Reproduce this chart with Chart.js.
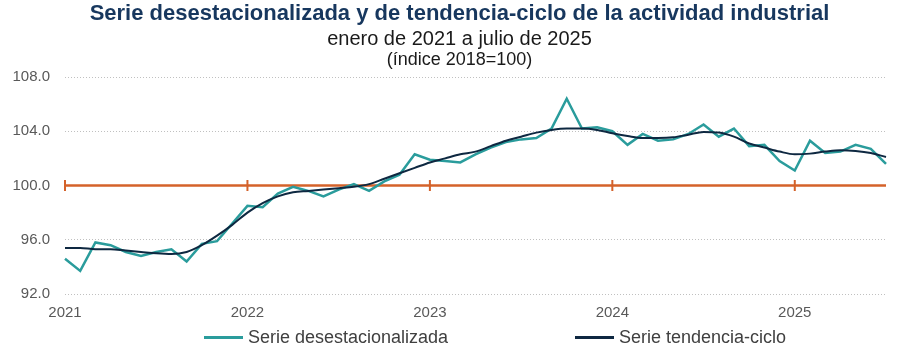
<!DOCTYPE html>
<html>
<head>
<meta charset="utf-8">
<script src="https://cdn.jsdelivr.net/npm/chart.js@4.4.1/dist/chart.umd.min.js"></script>
<style>
  html, body { margin: 0; padding: 0; background: #ffffff; }
  #wrap { position: relative; width: 919px; height: 357px; overflow: hidden; font-family: "Liberation Sans", Arial, sans-serif; }
  #c { position: absolute; left: 0; top: 0; }
  .t { position: absolute; left: 0; width: 919px; text-align: center; white-space: nowrap; }
  #t1 { top: 0px; font-size: 22px; font-weight: bold; color: #17375e; }
  #t2 { top: 27px; font-size: 20px; color: #1a1a1a; }
  #t3 { top: 49px; font-size: 18px; color: #1a1a1a; }
  .lg { position: absolute; top: 327px; font-size: 18px; color: #404040; white-space: nowrap; display: flex; align-items: center; }
  .lg span.sw { display: inline-block; width: 39px; height: 3px; margin-right: 5px; }
</style>
</head>
<body>
<div id="wrap">
  <canvas id="c" width="919" height="357"></canvas>
  <div class="t" id="t1">Serie desestacionalizada y de tendencia-ciclo de la actividad industrial</div>
  <div class="t" id="t2">enero de 2021 a julio de 2025</div>
  <div class="t" id="t3">(índice 2018=100)</div>
  <div class="lg" id="lg1" style="left:204px"><span class="sw" style="background:#2a9c9c"></span><span id="lgt1"></span></div>
  <div class="lg" id="lg2" style="left:575px"><span class="sw" style="background:#0e2841;"></span><span id="lgt2"></span></div>
</div>
<script>
// Categories: monthly, January 2021 to July 2025
const years = ["2021", "2022", "2023", "2024", "2025"];
const months = ["ene","feb","mar","abr","may","jun","jul","ago","sep","oct","nov","dic"];
const categories = [];
years.forEach(y => months.forEach(m => categories.push(m + " " + y)));
categories.length = 55;

const seriesNames = ["Serie desestacionalizada", "Serie tendencia-ciclo"];

// Serie desestacionalizada
const desestacionalizada = [
  94.6, 93.7, 95.8, 95.6, 95.1, 94.8, 95.1, 95.3, 94.4, 95.7, 95.9, 97.2,
  98.5, 98.4, 99.4, 99.9, 99.6, 99.2, 99.7, 100.1, 99.6, 100.3, 100.8, 102.3,
  101.9, 101.8, 101.7, 102.3, 102.8, 103.2, 103.4, 103.5, 104.2, 106.4, 104.2, 104.3,
  104.0, 103.0, 103.8, 103.3, 103.4, 103.8, 104.5, 103.6, 104.2, 102.9, 103.0, 101.8,
  101.1, 103.3, 102.4, 102.5, 103.0, 102.7, 101.6
];

// Serie tendencia-ciclo
const tendenciaCiclo = [
  95.4, 95.4, 95.3, 95.3, 95.2, 95.1, 95.0, 94.95, 95.1, 95.6, 96.3, 97.1,
  98.0, 98.7, 99.2, 99.5, 99.6, 99.7, 99.8, 99.9, 100.1, 100.5, 100.9, 101.3,
  101.7, 102.0, 102.3, 102.5, 102.9, 103.3, 103.6, 103.9, 104.1, 104.2, 104.2, 104.1,
  103.85, 103.65, 103.5, 103.5, 103.55, 103.75, 103.95, 103.9, 103.6, 103.1, 102.8, 102.5,
  102.3, 102.35, 102.5, 102.6, 102.55, 102.4, 102.1
];

// Reference level
const referencia = categories.map(() => 100);
const yTicks = [92, 96, 100, 104, 108];

document.getElementById("lgt1").textContent = seriesNames[0];
document.getElementById("lgt2").textContent = seriesNames[1];

const refRadius = categories.map((c, i) => (i % 12 === 0 ? 5.5 : 0));

Chart.defaults.font.family = '"Liberation Sans", Arial, sans-serif';

new Chart(document.getElementById("c"), {
  type: "line",
  data: {
    labels: categories,
    datasets: [
      {
        label: seriesNames[1],
        data: tendenciaCiclo,
        borderColor: "#0e2841",
        borderWidth: 2,
        pointRadius: 0,
        tension: 0.4,
        cubicInterpolationMode: "monotone",
        fill: false,
        order: 1
      },
      {
        label: seriesNames[0],
        data: desestacionalizada,
        borderColor: "#2a9c9c",
        borderWidth: 2.5,
        pointRadius: 0,
        tension: 0,
        fill: false,
        order: 2
      },
      {
        label: "Referencia",
        data: referencia,
        borderColor: "#d4622a",
        borderWidth: 2.5,
        pointRadius: refRadius,
        pointStyle: "line",
        rotation: 90,
        pointBorderColor: "#d4622a",
        pointBorderWidth: 2,
        pointHoverRadius: 0,
        tension: 0,
        fill: false,
        order: 3
      }
    ]
  },
  options: {
    responsive: false,
    animation: false,
    events: [],
    layout: { padding: { left: 0, right: 33, top: 77, bottom: 0 } },
    plugins: {
      legend: { display: false },
      title: { display: false },
      tooltip: { enabled: false }
    },
    scales: {
      x: {
        type: "category",
        offset: false,
        grid: { display: false, drawTicks: false },
        border: { display: false },
        ticks: {
          autoSkip: false,
          maxRotation: 0,
          minRotation: 0,
          padding: 10,
          color: "#595959",
          font: { size: 15 },
          callback: function (v, i) {
            return i % 12 === 0 ? years[i / 12] : "";
          }
        },
        afterFit: function (s) { s.height = 63; }
      },
      y: {
        min: 92,
        max: 108,
        afterBuildTicks: function (s) { s.ticks = yTicks.map(v => ({ value: v })); },
        grid: { color: "#c0c0c0", lineWidth: 1, drawTicks: false },
        border: { display: false, dash: [1, 2] },
        ticks: {
          padding: 15,
          color: "#595959",
          font: { size: 15 },
          callback: function (v) { return Number(v).toFixed(1); }
        },
        afterFit: function (s) { s.width = 65; }
      }
    }
  }
});
</script>
</body>
</html>
